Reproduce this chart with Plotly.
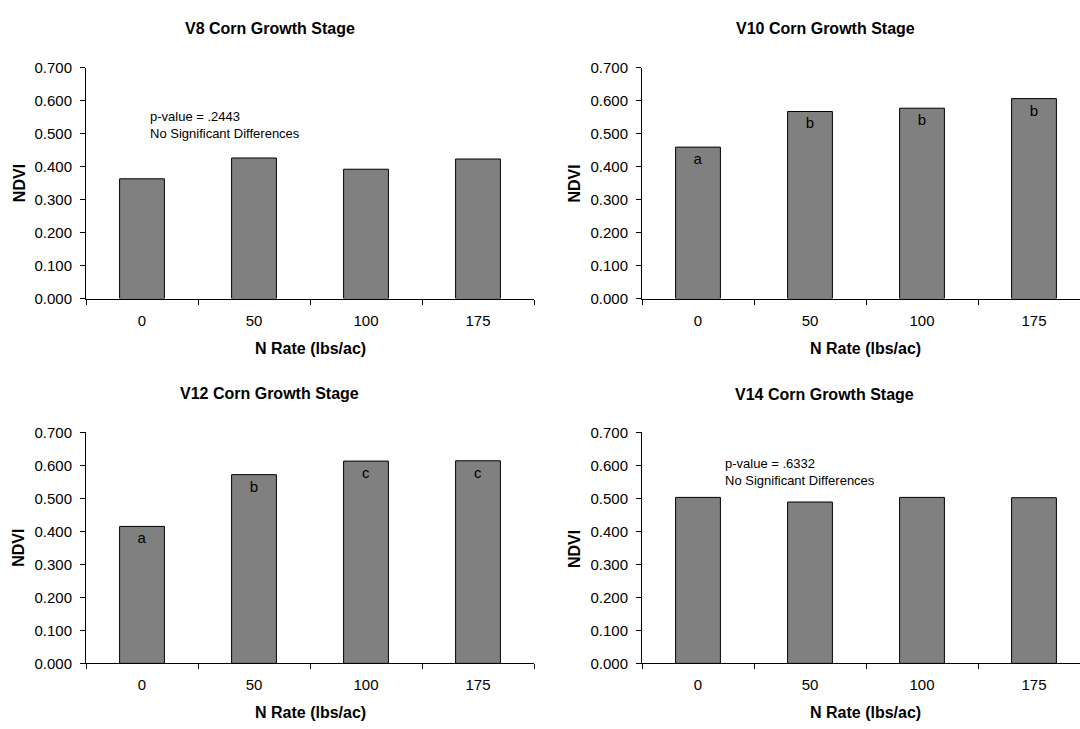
import plotly.graph_objects as go

# N application rates (lbs/ac) shared by every growth stage
n_rates = ["0", "50", "100", "175"]

# Mean NDVI per N rate at each corn growth stage
ndvi_v8 = [0.363, 0.426, 0.392, 0.423]
ndvi_v10 = [0.459, 0.567, 0.577, 0.606]
ndvi_v12 = [0.415, 0.572, 0.613, 0.614]
ndvi_v14 = [0.503, 0.489, 0.503, 0.502]

# Mean separation letters (empty where no significant differences)
letters_v8 = ["", "", "", ""]
letters_v10 = ["a", "b", "b", "b"]
letters_v12 = ["a", "b", "c", "c"]
letters_v14 = ["", "", "", ""]

stage_titles = ["V8 Corn Growth Stage", "V10 Corn Growth Stage",
                "V12 Corn Growth Stage", "V14 Corn Growth Stage"]
stat_notes = ["p-value = .2443<br>No Significant Differences", None,
              None, "p-value = .6332<br>No Significant Differences"]

y_ticks = [0.0, 0.1, 0.2, 0.3, 0.4, 0.5, 0.6, 0.7]

W, H = 1080, 729
FONT = "Liberation Sans, Arial, sans-serif"

# Panel geometry in pixels: (axis left, axis right, axis top, axis bottom)
panels = [
    (86, 534, 60, 296.5),
    (642, 1080, 60, 296.5),
    (86, 534, 433.5, 670),
    (642, 1080, 433.5, 670),
]
cat_px = 112.0  # width of one category slot

series = [(ndvi_v8, letters_v8), (ndvi_v10, letters_v10),
          (ndvi_v12, letters_v12), (ndvi_v14, letters_v14)]

# Title / axis-title anchor points (pixels)
title_pos = [(269.5, 20), (825.5, 20), (269.5, 394), (824.6, 395)]
xtitle_pos = [(310.3, 347.7), (865.4, 347.7), (310.3, 720), (865.4, 720.5)]
ytitle_pos = [(19, 178.3), (574.4, 178.3), (19, 551.7), (574.4, 552.5)]
note_pos = [(147.5, 100), None, None, (723.3, 455.5)]

fig = go.Figure()
annotations = []


def px_x(v):
    return v / W


def px_y(v):
    return (H - v) / H


for i, ((vals, letters), (xl, xr, yt, yb)) in enumerate(zip(series, panels)):
    k = "" if i == 0 else str(i + 1)
    xa, ya = "x" + k, "y" + k
    fig.add_trace(go.Bar(
        x=n_rates, y=vals, xaxis=xa, yaxis=ya,
        width=0.4,
        marker=dict(color="#808080", line=dict(color="#000000", width=1)),
        text=letters, textposition="inside", insidetextanchor="end",
        textangle=0, constraintext="none",
        textfont=dict(family=FONT, size=15, color="#000000"),
        hoverinfo="skip", showlegend=False,
    ))
    x_hi = -0.5 + (xr - xl) / cat_px
    fig.layout["xaxis" + k] = dict(
        domain=[px_x(xl), px_x(xr)], anchor=ya,
        type="category", range=[-0.5, x_hi],
        showline=True, linecolor="#000000", linewidth=1,
        ticks="outside", tickson="boundaries", ticklen=5, tickcolor="#000000",
        showgrid=False, zeroline=False, ticklabelstandoff=8,
        tickfont=dict(family=FONT, size=15, color="#000000"),
        fixedrange=True,
    )
    fig.layout["yaxis" + k] = dict(
        domain=[px_y(yb), px_y(yt)], anchor=xa,
        range=[0, 0.7], tickvals=y_ticks, tickformat=".3f",
        showline=True, linecolor="#000000", linewidth=1,
        ticks="outside", ticklen=5, tickcolor="#000000",
        showgrid=False, zeroline=False, ticklabelstandoff=5,
        tickfont=dict(family=FONT, size=15, color="#000000"),
        fixedrange=True,
    )

    tx, ty = title_pos[i]
    annotations.append(dict(
        text="<b>" + stage_titles[i] + "</b>", x=px_x(tx), y=px_y(ty),
        xref="paper", yref="paper", xanchor="center", yanchor="middle",
        showarrow=False, font=dict(family=FONT, size=16, color="#000000")))
    ax_, ay_ = xtitle_pos[i]
    annotations.append(dict(
        text="<b>N Rate (lbs/ac)</b>", x=px_x(ax_), y=px_y(ay_),
        xref="paper", yref="paper", xanchor="center", yanchor="middle",
        showarrow=False, font=dict(family=FONT, size=16, color="#000000")))
    yx_, yy_ = ytitle_pos[i]
    annotations.append(dict(
        text="<b>NDVI</b>", x=px_x(yx_), y=px_y(yy_), textangle=-90,
        xref="paper", yref="paper", xanchor="center", yanchor="middle",
        showarrow=False, font=dict(family=FONT, size=16, color="#000000")))
    if stat_notes[i]:
        nx, ny = note_pos[i]
        annotations.append(dict(
            text=stat_notes[i], x=px_x(nx), y=px_y(ny), align="left",
            xref="paper", yref="paper", xanchor="left", yanchor="top",
            showarrow=False, font=dict(family=FONT, size=13, color="#000000")))

fig.update_layout(
    width=W, height=H,
    margin=dict(l=0, r=0, t=0, b=0),
    paper_bgcolor="#ffffff", plot_bgcolor="#ffffff",
    annotations=annotations,
    bargap=0.6,
)

fig.write_html(
    "out.html",
    config={"displayModeBar": False, "staticPlot": True},
)
